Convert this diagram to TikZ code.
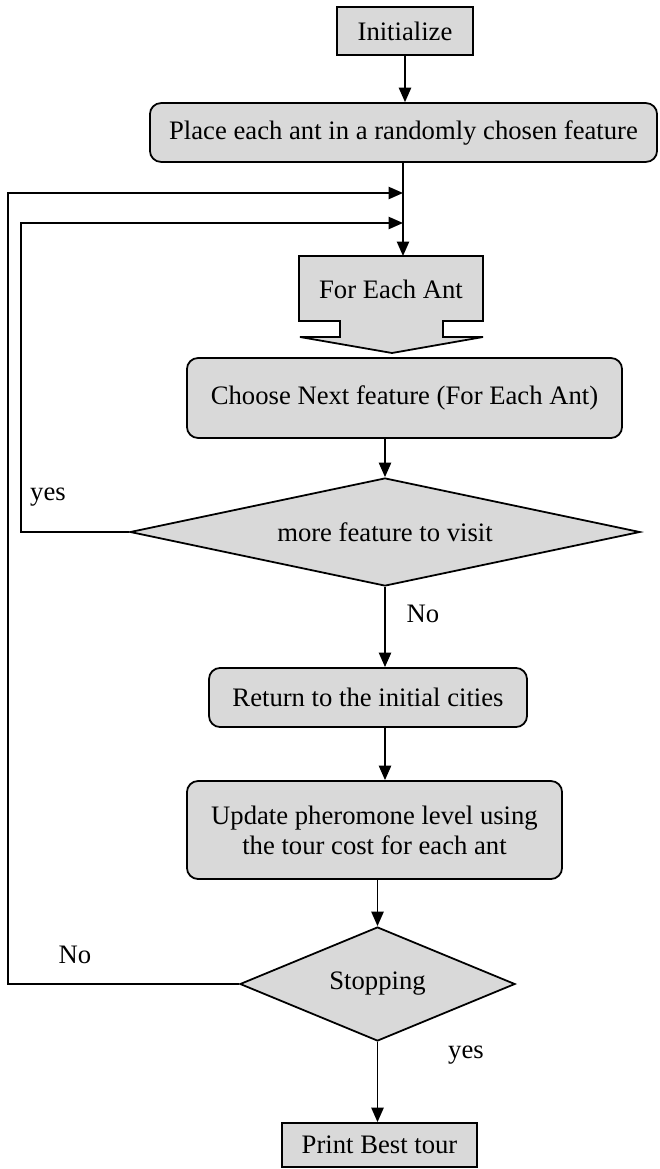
\documentclass[tikz,border=0pt]{standalone}
\usepackage{fontspec}
\setmainfont{Liberation Serif}
\usetikzlibrary{shapes.geometric,arrows.meta}
\usetikzlibrary{positioning}
\tikzstyle{box} = [draw, fill=gray!30, line width=0.8pt, inner sep=0pt, align=center]
\tikzstyle{line} = [draw, line width=0.8pt, -{Triangle[length=6.5pt,width=5.5pt]}]

\begin{document}
\begin{tikzpicture}[x=0.45pt, y=-0.45pt, font=\fontsize{12}{13.5}\selectfont,
	block/.style={box, rounded corners=5pt},
	decide/.style={box, diamond}]
	\useasboundingbox (0,0) rectangle (659,1169);
	\node [box, minimum width=61.2pt, minimum height=21.6pt] at (405,31) (init) {Initialize};
	\node [block, minimum width=228.2pt, minimum height=26.5pt] at (403.5,132.5) (place) {Place each ant in a randomly chosen feature};
	% For each ant (arrow shaped box)
	\draw [fill=gray!30, line width=0.8pt] (299,256) -- (299,321) -- (340,321) -- (340,337) -- (300,337)
		-- (392,353) -- (483,337) -- (443,337) -- (443,321) -- (483,321) -- (483,256) -- cycle;
	\node at (391,289) (each) {For Each Ant};
	\coordinate (eachtop) at (403,256);
	\node [block, minimum width=195.8pt, minimum height=36pt] at (404.5,398) (choose) {Choose Next feature (For Each Ant)};
	\node [decide, aspect=4.7, minimum width=229.5pt, minimum height=48.6pt] at (385,532) (more) {more feature to visit};
	\node [block, minimum width=143.1pt, minimum height=26.6pt] at (368,697.5) (ret) {Return to the initial cities};
	\node [block, minimum width=168.8pt, minimum height=44.1pt] at (374.5,830) (update) {Update pheromone level using\\the tour cost for each ant};
	\node [decide, aspect=2.4, minimum width=123.8pt, minimum height=51.3pt] at (377.5,984) (stop) {Stopping};
	\node [box, minimum width=87.8pt, minimum height=19.8pt] at (379.5,1145) (print) {Print Best tour};
	% Labels
	\node at (48,497) (yesA) {yes};
	\node at (423,614) (noA) {No};
	\node at (75,955) (noB) {No};
	\node at (466,1055) (yesB) {yes};
	% Joins on the main line
	\coordinate (join1) at (403,193);
	\coordinate (join2) at (403,223);
	\coordinate (outerx) at (8,0);
	\coordinate (innerx) at (21,0);
	%% Flows
	\path [line] (init.south) -- (init.south |- place.north);
	\path [line] (place.south -| eachtop) -- (eachtop);
	\path [line] (more.north |- choose.south) -- (more.north);
	\path [line] (more.south) -- (more.south |- ret.north);
	\path [line] (ret.south -| more.south) -- (more.south |- update.north);
	\path [line] (stop.north |- update.south) -- (stop.north);
	\path [line] (stop.south) -- (stop.south |- print.north);
	% Loops back
	\path [line] (more.west) -| (innerx |- join2) -- (join2);
	\path [line] (stop.west) -| (outerx |- join1) -- (join1);
\end{tikzpicture}
\end{document}
